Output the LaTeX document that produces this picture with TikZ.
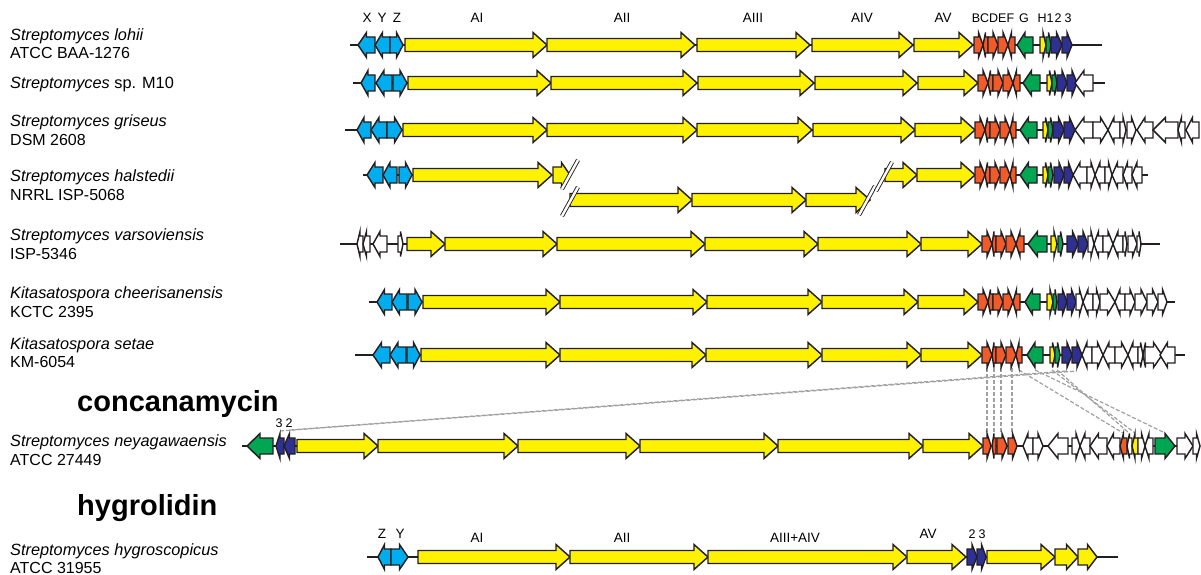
\documentclass[tikz,border=0pt]{standalone}
\usepackage{fontspec}
\setmainfont{Liberation Sans}
\definecolor{yl}{RGB}{255,242,0}
\definecolor{cy}{RGB}{0,174,239}
\definecolor{og}{RGB}{241,90,41}
\definecolor{gn}{RGB}{0,166,81}
\definecolor{db}{RGB}{46,49,146}
\definecolor{wt}{RGB}{255,255,255}
\definecolor{linec}{RGB}{35,31,32}
\definecolor{dashc}{RGB}{160,160,160}
\tikzset{
  genestyle/.style={draw=linec, line width=1.45pt, line join=miter},
  bb/.style={draw=linec, line width=1.4pt},
  glbl/.style={font=\fontsize{13.5}{16}\selectfont, anchor=base, inner sep=0pt},
  slbl/.style={font=\fontsize{12.5}{14}\selectfont, anchor=base, inner sep=0pt},
  spname/.style={font=\fontsize{16.3}{18}\selectfont\itshape, anchor=base west, inner sep=0pt},
  strain/.style={font=\fontsize{16}{18}\selectfont, anchor=base west, inner sep=0pt},
  prod/.style={font=\fontsize{29}{32}\selectfont\bfseries, anchor=base west, inner sep=0pt},
  brk/.style={draw=linec, double=white, double distance=2.4pt, line width=0.9pt},
  homol/.style={draw=dashc, dashed, dash pattern=on 4pt off 2pt, line width=1.2pt}
}
\def\rowy{0}
\newcommand{\mygene}[3]{%
  \pgfmathsetmacro{\glen}{#2-#1}%
  \pgfmathsetmacro{\galen}{abs(\glen)}%
  \pgfmathsetmacro{\gdir}{(\glen>0 ? 1 : -1)}%
  \pgfmathsetmacro{\ghd}{min(14,0.5*\galen)*\gdir}%
  \pgfmathsetmacro{\gbx}{#2-\ghd}%
  \pgfmathsetmacro{\gbh}{(\galen>30 ? 6.5 : 8)}%
  \filldraw[genestyle,fill=#3] (#1,\rowy-\gbh) -- (\gbx,\rowy-\gbh) -- (\gbx,\rowy-12.5) -- (#2,\rowy) -- (\gbx,\rowy+12.5) -- (\gbx,\rowy+\gbh) -- (#1,\rowy+\gbh) -- cycle;
}
\begin{document}
\begin{tikzpicture}[x=1pt,y=-1pt]
\useasboundingbox (0,0) rectangle (1201,575);

% ---------- species labels ----------
\node[spname] (n1a) at (10,40.5) {Streptomyces lohii};
\node[strain] (n1b) at (10,59) {ATCC BAA-1276};
\node[spname] (n2a) at (10,88.5) {Streptomyces \upshape sp. M10};
\node[spname] (n3a) at (10,126.5) {Streptomyces griseus};
\node[strain] (n3b) at (10,145) {DSM 2608};
\node[spname] (n4a) at (10,181.5) {Streptomyces halstedii};
\node[strain] (n4b) at (10,200.5) {NRRL ISP-5068};
\node[spname] (n5a) at (10,240.5) {Streptomyces varsoviensis};
\node[strain] (n5b) at (10,259.5) {ISP-5346};
\node[spname] (n6a) at (10,298.5) {Kitasatospora cheerisanensis};
\node[strain] (n6b) at (10,317.5) {KCTC 2395};
\node[spname] (n7a) at (10,349.5) {Kitasatospora setae};
\node[strain] (n7b) at (10,367.5) {KM-6054};
\node[prod] (conc) at (77,411) {concanamycin};
\node[spname] (n8a) at (10,446.5) {Streptomyces neyagawaensis};
\node[strain] (n8b) at (10,465.5) {ATCC 27449};
\node[prod] (hygr) at (77,515) {hygrolidin};
\node[spname] (n9a) at (10,555.5) {Streptomyces hygroscopicus};
\node[strain] (n9b) at (10,573.5) {ATCC 31955};

% ---------- gene labels, row 1 ----------
\node[glbl] (lX) at (367,23) {X};
\node[glbl] (lY) at (382,23) {Y};
\node[glbl] (lZ) at (397,23) {Z};
\node[glbl] (lAI) at (477,23) {AI};
\node[glbl] (lAII) at (622,23) {AII};
\node[glbl] (lAIII) at (753,23) {AIII};
\node[glbl] (lAIV) at (862,23) {AIV};
\node[glbl] (lAV) at (943,23) {AV};
\node[slbl] (lBF) at (993,23) {BCDEF};
\node[slbl] (lG) at (1024,23) {G};
\node[slbl] (lH) at (1042,23) {H};
\node[slbl] (l1) at (1050,23) {1};
\node[slbl] (l2) at (1058,23) {2};
\node[slbl] (l3) at (1068,23) {3};

% ---------- homology lines ----------
\draw[homol] (280,431) -- (1077,371);
\draw[homol] (290,430) -- (1067,371);
\draw[homol] (987,368) -- (987,433);
\draw[homol] (994,368) -- (994,433);
\draw[homol] (1001,368) -- (1001,433);
\draw[homol] (1012,368) -- (1012,433);
\draw[homol] (1019,370) -- (1123,433);
\draw[homol] (1035,370) -- (1165,433);
\draw[homol] (1052,370) -- (1135,433);
\draw[homol] (1057,370) -- (1129,433);

% ---------- row 1 ----------
\def\rowy{45}
\draw[bb] (350,\rowy) -- (1102,\rowy);
\mygene{375}{358}{cy}\mygene{390}{375}{cy}\mygene{390}{403}{cy}
\mygene{405}{547}{yl}\mygene{547}{695}{yl}\mygene{697}{810}{yl}\mygene{812}{913}{yl}\mygene{914}{973}{yl}
\mygene{974}{983}{og}\mygene{988}{983}{og}\mygene{988}{998}{og}\mygene{998}{1008}{og}\mygene{1015}{1008}{og}
\mygene{1033}{1017}{gn}\mygene{1040}{1046}{yl}\mygene{1046}{1051}{gn}\mygene{1051}{1062}{db}\mygene{1062}{1072}{db}

% ---------- row 2 ----------
\def\rowy{83}
\draw[bb] (353,\rowy) -- (1105,\rowy);
\mygene{375}{361}{cy}\mygene{392}{376}{cy}\mygene{393}{407}{cy}
\mygene{408}{551}{yl}\mygene{551}{697}{yl}\mygene{698}{814}{yl}\mygene{815}{917}{yl}\mygene{918}{978}{yl}
\mygene{978}{988}{og}\mygene{993}{988}{og}\mygene{993}{1003}{og}\mygene{1003}{1013}{og}\mygene{1020}{1013}{og}
\mygene{1040}{1023}{gn}\mygene{1047}{1052}{yl}\mygene{1052}{1057}{gn}\mygene{1057}{1067}{db}\mygene{1067}{1077}{db}
\mygene{1093}{1075}{wt}

% ---------- row 3 ----------
\def\rowy{130}
\draw[bb] (345,\rowy) -- (1199,\rowy);
\mygene{371}{357}{cy}\mygene{387}{371}{cy}\mygene{387}{402}{cy}
\mygene{403}{547}{yl}\mygene{547}{697}{yl}\mygene{697}{812}{yl}\mygene{813}{915}{yl}\mygene{915}{975}{yl}
\mygene{975}{985}{og}\mygene{990}{985}{og}\mygene{990}{1000}{og}\mygene{1000}{1010}{og}\mygene{1016}{1010}{og}
\mygene{1037}{1020}{gn}\mygene{1043}{1048}{yl}\mygene{1048}{1053}{gn}\mygene{1053}{1064}{db}\mygene{1064}{1075}{db}
\mygene{1093}{1075}{wt}\mygene{1093}{1108}{wt}\mygene{1120}{1108}{wt}\mygene{1120}{1126}{wt}\mygene{1127}{1136}{wt}
\mygene{1153}{1137}{wt}\mygene{1178}{1153}{wt}\mygene{1185}{1178}{wt}\mygene{1199}{1186}{wt}

% ---------- row 4 (split) ----------
\def\rowy{175}
\draw[bb] (363,\rowy) -- (413,\rowy);
\draw[bb] (885,\rowy) -- (1148,\rowy);
\mygene{383}{367}{cy}\mygene{397}{383}{cy}\mygene{399}{412}{cy}
\mygene{413}{552}{yl}\mygene{553}{570}{yl}
\mygene{885}{917}{yl}\mygene{917}{975}{yl}
\mygene{975}{985}{og}\mygene{990}{985}{og}\mygene{990}{1000}{og}\mygene{1000}{1010}{og}\mygene{1016}{1010}{og}
\mygene{1037}{1020}{gn}\mygene{1043}{1048}{yl}\mygene{1048}{1053}{gn}\mygene{1054}{1064}{db}\mygene{1064}{1073}{db}
\mygene{1087}{1073}{wt}\mygene{1087}{1095}{wt}\mygene{1105}{1095}{wt}\mygene{1105}{1112}{wt}\mygene{1123}{1112}{wt}
\mygene{1132}{1123}{wt}\mygene{1142}{1132}{wt}
\def\rowy{200}
\mygene{570}{692}{yl}\mygene{692}{806}{yl}\mygene{806}{870}{yl}
\draw[brk] (562,189) -- (578,160);
\draw[brk] (562,216) -- (578,187);
\draw[brk] (859,215) -- (875,186);
\draw[brk] (876,191) -- (892,162);

% ---------- row 5 ----------
\def\rowy{244}
\draw[bb] (340,\rowy) -- (1160,\rowy);
\mygene{363}{357}{wt}\mygene{370}{363}{wt}\mygene{387}{373}{wt}\mygene{398}{403}{wt}
\mygene{407}{445}{yl}\mygene{445}{557}{yl}\mygene{557}{705}{yl}\mygene{705}{818}{yl}\mygene{818}{921}{yl}\mygene{921}{982}{yl}
\mygene{982}{992}{og}\mygene{996}{992}{og}\mygene{996}{1006}{og}\mygene{1006}{1016}{og}\mygene{1024}{1016}{og}
\mygene{1047}{1028}{gn}\mygene{1051}{1057}{yl}\mygene{1058}{1063}{gn}\mygene{1067}{1078}{db}\mygene{1078}{1088}{db}
\mygene{1088}{1094}{wt}\mygene{1103}{1094}{wt}\mygene{1103}{1113}{wt}\mygene{1123}{1113}{wt}\mygene{1123}{1127}{wt}
\mygene{1128}{1137}{wt}\mygene{1137}{1141}{wt}

% ---------- row 6 ----------
\def\rowy{302}
\draw[bb] (369,\rowy) -- (1175,\rowy);
\mygene{392}{377}{cy}\mygene{407}{392}{cy}\mygene{408}{422}{cy}
\mygene{423}{560}{yl}\mygene{560}{707}{yl}\mygene{707}{822}{yl}\mygene{822}{918}{yl}\mygene{918}{978}{yl}
\mygene{978}{988}{og}\mygene{993}{988}{og}\mygene{993}{1003}{og}\mygene{1003}{1013}{og}\mygene{1020}{1013}{og}
\mygene{1040}{1025}{gn}\mygene{1047}{1053}{yl}\mygene{1053}{1057}{gn}\mygene{1058}{1067}{db}\mygene{1067}{1076}{db}
\mygene{1076}{1083}{wt}\mygene{1093}{1083}{wt}\mygene{1093}{1100}{wt}\mygene{1100}{1115}{wt}\mygene{1125}{1115}{wt}
\mygene{1125}{1135}{wt}\mygene{1135}{1147}{wt}\mygene{1147}{1158}{wt}\mygene{1158}{1167}{wt}

% ---------- row 7 ----------
\def\rowy{355}
\draw[bb] (355,\rowy) -- (1185,\rowy);
\mygene{390}{373}{cy}\mygene{406}{390}{cy}\mygene{407}{420}{cy}
\mygene{421}{560}{yl}\mygene{560}{706}{yl}\mygene{706}{822}{yl}\mygene{822}{921}{yl}\mygene{921}{982}{yl}
\mygene{982}{992}{og}\mygene{996}{992}{og}\mygene{996}{1006}{og}\mygene{1006}{1016}{og}\mygene{1022}{1016}{og}
\mygene{1043}{1027}{gn}\mygene{1050}{1055}{yl}\mygene{1055}{1060}{gn}\mygene{1062}{1072}{db}\mygene{1072}{1082}{db}
\mygene{1092}{1082}{wt}\mygene{1092}{1103}{wt}\mygene{1115}{1103}{wt}\mygene{1115}{1128}{wt}\mygene{1138}{1128}{wt}
\mygene{1138}{1143}{wt}\mygene{1148}{1143}{wt}\mygene{1145}{1162}{wt}\mygene{1175}{1160}{wt}

% ---------- row 8 ----------
\def\rowy{446}
\draw[bb] (242,\rowy) -- (1200,\rowy);
\mygene{273}{247}{gn}\mygene{284}{276}{db}\mygene{295}{284}{db}
\mygene{297}{378}{yl}\mygene{378}{518}{yl}\mygene{518}{640}{yl}\mygene{640}{778}{yl}\mygene{778}{923}{yl}\mygene{923}{983}{yl}
\mygene{983}{991}{og}\mygene{996}{992}{og}\mygene{997}{1007}{og}\mygene{1008}{1017}{og}
\mygene{1033}{1023}{wt}\mygene{1033}{1043}{wt}\mygene{1068}{1048}{wt}\mygene{1072}{1080}{wt}\mygene{1090}{1080}{wt}
\mygene{1107}{1090}{wt}\mygene{1120}{1107}{wt}\mygene{1127}{1120}{og}\mygene{1132}{1127}{wt}\mygene{1138}{1132}{yl}
\mygene{1138}{1145}{wt}\mygene{1153}{1145}{wt}\mygene{1155}{1175}{gn}\mygene{1177}{1193}{wt}\mygene{1193}{1200}{wt}
\node[slbl] (l8a) at (279,427) {3};
\node[slbl] (l8b) at (289,427) {2};

% ---------- row 9 ----------
\def\rowy{557}
\draw[bb] (367,\rowy) -- (1118,\rowy);
\mygene{391}{378}{cy}\mygene{391}{408}{cy}
\mygene{418}{570}{yl}\mygene{570}{708}{yl}\mygene{708}{907}{yl}\mygene{907}{966}{yl}
\mygene{967}{977}{db}\mygene{977}{986}{db}
\mygene{987}{1055}{yl}\mygene{1055}{1078}{yl}\mygene{1078}{1097}{yl}
\node[glbl] (l9Z) at (382,538) {Z};
\node[glbl] (l9Y) at (400,538) {Y};
\node[glbl] (l9AI) at (477,542) {AI};
\node[glbl] (l9AII) at (622,542) {AII};
\node[glbl] (l9AIII) at (795,542) {AIII+AIV};
\node[glbl] (l9AV) at (928,538) {AV};
\node[slbl] (l92) at (972,538) {2};
\node[slbl] (l93) at (982,538) {3};
\end{tikzpicture}
\end{document}
